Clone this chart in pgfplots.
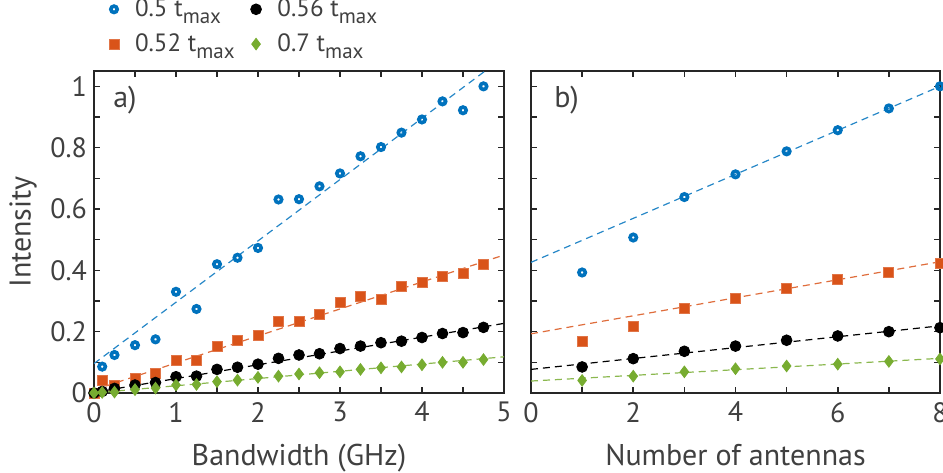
\documentclass[border=0pt]{standalone}
\usepackage{pgfplots}
\pgfplotsset{compat=1.18}
\usepackage{fontspec}
\setmainfont{PT Sans}
\definecolor{mblue}{HTML}{0072BD}
\definecolor{morange}{HTML}{D95319}
\definecolor{mgreen}{HTML}{77AC30}
\definecolor{txtgray}{HTML}{404040}
\definecolor{axgray}{HTML}{262626}
\newcommand{\tm}[1]{#1 t\raisebox{-0.55ex}{\fontsize{10.5}{10.5}\selectfont max}}
\pgfplotsset{
  myaxis/.style={
    scale only axis, height=161pt, ymin=0, ymax=1.05,
    ytick={0,0.2,0.4,0.6,0.8,1}, minor y tick num=1,
    minor x tick num=1,
    tick align=inside, major tick length=3pt, minor tick length=3pt,
    axis line style={axgray, line width=0.9pt},
    every tick/.style={axgray, line width=0.8pt},
    every minor tick/.style={axgray, line width=0.8pt},
    tick label style={font=\fontsize{14}{14}\selectfont, text=txtgray},
    xticklabel style={yshift=-1pt},
    label style={font=\fontsize{15}{15}\selectfont, text=txtgray},
    xlabel style={yshift=-4pt},
    /pgf/number format/assume math mode=true,
    clip mode=individual,
  },
  fitline/.style={dashed, dash pattern=on 3.5pt off 2.5pt, line width=0.6pt},
  sblue/.style={only marks, mark=o, mark size=1.6pt, mblue, line width=1.8pt},
  sorange/.style={only marks, mark=square*, mark size=2.5pt, morange, mark options={draw=morange!80!white, line width=0.4pt}},
  sblack/.style={only marks, mark=*, mark size=2.7pt, black},
  sgreen/.style={only marks, mark=diamond*, mark size=2.9pt, mgreen},
}
\begin{document}
\begin{tikzpicture}
\useasboundingbox (-47pt,-39.5pt) rectangle (424.5pt,196.5pt);
\begin{axis}[myaxis, at={(0,0)}, anchor=origin, width=205pt,
  xmin=0, xmax=5, xtick={0,1,2,3,4,5},
  xlabel={Bandwidth (GHz)}, ylabel={Intensity},
  yticklabels={0,0.2,0.4,0.6,0.8,1},
  legend columns=2,
  legend style={draw=none, fill=none, at={(axis description cs:0.021,1.25)}, anchor=north west,
    font=\fontsize{12.5}{12.5}\selectfont, text=txtgray,
    /tikz/every odd column/.append style={column sep=6pt},
    /tikz/every even column/.append style={column sep=6pt},
    row sep=3pt},
  legend cell align=left,
]
\addlegendimage{sblue}
\addlegendentry{\tm{0.5}}
\addlegendimage{sblack}
\addlegendentry{\tm{0.56}}
\addlegendimage{sorange}
\addlegendentry{\tm{0.52}}
\addlegendimage{sgreen}
\addlegendentry{\tm{0.7}}
\addplot[fitline, color=mblue!85!white, forget plot] coordinates {(0,0.096) (5,1.096)};
\addplot[fitline, color=morange!85!white, forget plot] coordinates {(0,0.01) (5,0.45)};
\addplot[fitline, color=black, forget plot] coordinates {(0,0.002) (5,0.227)};
\addplot[fitline, color=mgreen!85!white, forget plot] coordinates {(0,0.0) (5,0.118)};
\addplot[sblue, forget plot] coordinates {
(0.1,0.086) (0.25,0.124) (0.5,0.156) (0.75,0.175) (1,0.330) (1.25,0.274) (1.5,0.420) (1.75,0.441) (2,0.473) (2.25,0.631) (2.5,0.632) (2.75,0.674) (3,0.716) (3.25,0.772) (3.5,0.802) (3.75,0.849) (4,0.892) (4.25,0.951) (4.5,0.922) (4.75,1.000)};
\addplot[sorange, forget plot] coordinates {
(0,0) (0.1,0.042) (0.25,0.026) (0.5,0.048) (0.75,0.064) (1,0.105) (1.25,0.107) (1.5,0.153) (1.75,0.173) (2,0.187) (2.25,0.232) (2.5,0.234) (2.75,0.256) (3,0.294) (3.25,0.314) (3.5,0.305) (3.75,0.346) (4,0.362) (4.25,0.381) (4.5,0.389) (4.75,0.418)};
\addplot[sblack, forget plot] coordinates {
(0,0) (0.1,0.005) (0.25,0.015) (0.5,0.026) (0.75,0.034) (1,0.053) (1.25,0.055) (1.5,0.077) (1.75,0.084) (2,0.094) (2.25,0.113) (2.5,0.124) (2.75,0.128) (3,0.145) (3.25,0.153) (3.5,0.164) (3.75,0.169) (4,0.181) (4.25,0.194) (4.5,0.197) (4.75,0.214)};
\addplot[sgreen, forget plot] coordinates {
(0,0) (0.1,0.002) (0.25,0.003) (0.5,0.011) (0.75,0.016) (1,0.026) (1.25,0.028) (1.5,0.037) (1.75,0.042) (2,0.051) (2.25,0.055) (2.5,0.062) (2.75,0.066) (3,0.069) (3.25,0.077) (3.5,0.082) (3.75,0.085) (4,0.092) (4.25,0.100) (4.5,0.100) (4.75,0.109)};
\node[anchor=west, text=txtgray, font=\fontsize{15}{15}\selectfont] at (rel axis cs:0.03,0.91) {a)};
\end{axis}
\begin{axis}[myaxis, at={(218.5pt,0)}, anchor=origin, width=204.5pt,
  xmin=0, xmax=8, xtick={0,2,4,6,8},
  xlabel={Number of antennas},
  yticklabels={},
]
\addplot[fitline, color=mblue!85!white] coordinates {(0,0.426) (8,1.0)};
\addplot[fitline, color=morange!85!white] coordinates {(0,0.193) (8,0.428)};
\addplot[fitline, color=black] coordinates {(0,0.077) (8,0.219)};
\addplot[fitline, color=mgreen!85!white] coordinates {(0,0.039) (8,0.113)};
\addplot[sblue] coordinates {(1,0.393) (2,0.507) (3,0.639) (4,0.713) (5,0.788) (6,0.857) (7,0.928) (8,1.0)};
\addplot[sorange] coordinates {(1,0.169) (2,0.216) (3,0.276) (4,0.309) (5,0.342) (6,0.370) (7,0.394) (8,0.422)};
\addplot[sblack] coordinates {(1,0.085) (2,0.112) (3,0.136) (4,0.153) (5,0.172) (6,0.186) (7,0.200) (8,0.213)};
\addplot[sgreen] coordinates {(1,0.041) (2,0.055) (3,0.069) (4,0.079) (5,0.088) (6,0.094) (7,0.103) (8,0.111)};
\node[anchor=west, text=txtgray, font=\fontsize{15}{15}\selectfont] at (rel axis cs:0.04,0.91) {b)};
\end{axis}
\end{tikzpicture}
\end{document}
